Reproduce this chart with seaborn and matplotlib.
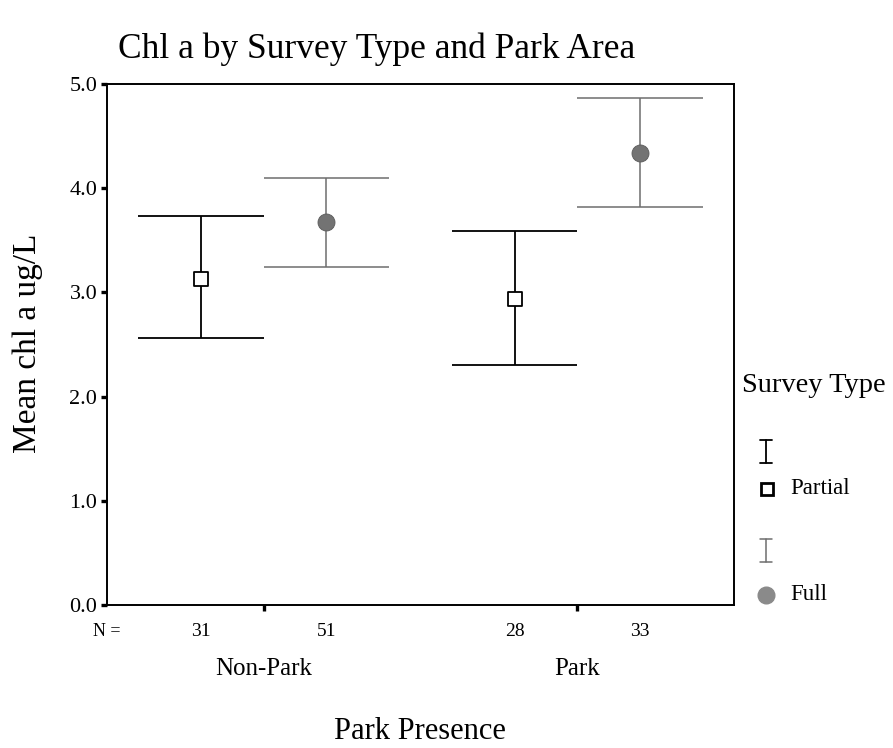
import numpy as np
import pandas as pd
import matplotlib
matplotlib.use("Agg")
import matplotlib.pyplot as plt
from matplotlib.lines import Line2D
import seaborn as sns

# Summary statistics: mean chlorophyll a with 95% CI bounds per group
park_areas = ["Non-Park", "Park"]
survey_types = ["Partial", "Full"]
mean_partial = [3.13, 2.94]
lo_partial = [2.56, 2.30]
hi_partial = [3.73, 3.59]
mean_full = [3.68, 4.34]
lo_full = [3.24, 3.82]
hi_full = [4.10, 4.87]
n_partial = [31, 28]
n_full = [51, 33]

sns.set_theme(style="white")
plt.rcParams["font.family"] = ["Liberation Serif", "DejaVu Serif"]
plt.rcParams.update({"text.color": "black", "axes.labelcolor": "black",
                     "xtick.color": "black", "ytick.color": "black"})

rows = []
for i, area in enumerate(park_areas):
    rows.append(dict(area=area, survey="Partial", idx=i, mean=mean_partial[i],
                     lo=lo_partial[i], hi=hi_partial[i], n=n_partial[i]))
    rows.append(dict(area=area, survey="Full", idx=i, mean=mean_full[i],
                     lo=lo_full[i], hi=hi_full[i], n=n_full[i]))
df = pd.DataFrame(rows)

dodge = {"Partial": -0.2, "Full": 0.2}
cap_half = 0.2
df["x"] = df["idx"] + df["survey"].map(dodge)

line_col = {"Partial": "black", "Full": "#6e6e6e"}
line_w = {"Partial": 1.3, "Full": 1.1}

fig = plt.figure(figsize=(8.93, 7.48), dpi=100)
ax = fig.add_axes([107 / 893, 1 - 605 / 748, 627 / 893, 521 / 748])

for s in survey_types:
    d = df[df["survey"] == s]
    ax.vlines(d["x"], d["lo"], d["hi"], color=line_col[s], lw=line_w[s], zorder=2)
    ax.hlines(d["lo"], d["x"] - cap_half, d["x"] + cap_half, color=line_col[s], lw=line_w[s], zorder=2)
    ax.hlines(d["hi"], d["x"] - cap_half, d["x"] + cap_half, color=line_col[s], lw=line_w[s], zorder=2)

sns.scatterplot(data=df[df["survey"] == "Partial"], x="x", y="mean", marker="s",
                s=95, facecolor="white", edgecolor="black", linewidth=1.3,
                ax=ax, zorder=3, legend=False)
sns.scatterplot(data=df[df["survey"] == "Full"], x="x", y="mean", marker="o",
                s=150, color="#737373", edgecolor="#5a5a5a", linewidth=0.6,
                ax=ax, zorder=3, legend=False)

ax.set_xlim(-0.5, 1.5)
ax.set_ylim(0, 5)
yt = np.arange(0, 5.01, 1.0)
ax.set_yticks(yt)
ax.set_yticklabels([f"{v:.1f}" for v in yt], fontsize=16)
ax.set_xticks(range(len(park_areas)))
ax.set_xticklabels(park_areas, fontsize=18)
ax.tick_params(axis="both", direction="out", length=4, width=2.4, color="black",
               bottom=True, left=True)
ax.tick_params(axis="x", pad=34)
ax.tick_params(axis="y", pad=3)
ax.set_xlabel("")
ax.set_ylabel("")
for sp in ax.spines.values():
    sp.set_visible(True)
    sp.set_color("black")
    sp.set_linewidth(1.4)

# Group sizes under each error bar
tr = matplotlib.transforms.blended_transform_factory(ax.transData, ax.transAxes)
yn = -27 / 521
for _, r in df.iterrows():
    ax.text(r["x"], yn, str(r["n"]), transform=tr, ha="center", va="center", fontsize=14)
ax.text(-0.5, yn, "N =", transform=tr, ha="center", va="center", fontsize=13)

fig.text(377 / 893, 1 - 58 / 748, "Chl a by Survey Type and Park Area",
         ha="center", va="baseline", fontsize=25.5)
fig.text(28 / 893, 1 - 343 / 748, "Mean chl a ug/L", rotation=90,
         ha="center", va="center", fontsize=24)
fig.text(420 / 893, 2 / 748, "Park Presence",
         ha="center", va="bottom", fontsize=22)

# Legend drawn in figure coordinates
fig.text(742 / 893, 1 - 392 / 748, "Survey Type", ha="left", va="baseline", fontsize=20.5)

def bar_icon(xc, ytop, ybot, color, lw):
    X = lambda v: v / 893
    Y = lambda v: 1 - v / 748
    fig.add_artist(Line2D([X(xc), X(xc)], [Y(ytop), Y(ybot)], color=color, lw=lw))
    fig.add_artist(Line2D([X(xc - 6), X(xc + 6)], [Y(ytop), Y(ytop)], color=color, lw=lw))
    fig.add_artist(Line2D([X(xc - 6), X(xc + 6)], [Y(ybot), Y(ybot)], color=color, lw=lw))

bar_icon(766, 440, 463, "black", 1.3)
fig.add_artist(Line2D([767 / 893], [1 - 489 / 748], marker="s", markersize=8,
                      markerfacecolor="white", markeredgecolor="black", markeredgewidth=2.0, lw=0))
fig.text(790 / 893, 1 - 489 / 748, "Partial", ha="left", va="center", fontsize=16.5)
bar_icon(766, 539, 562, "#6e6e6e", 1.1)
fig.add_artist(Line2D([766 / 893], [1 - 595 / 748], marker="o", markersize=12,
                      markerfacecolor="#8a8a8a", markeredgecolor="#8a8a8a", lw=0))
fig.text(790 / 893, 1 - 595 / 748, "Full", ha="left", va="center", fontsize=16.5)

fig.savefig("out.png", dpi=100)
